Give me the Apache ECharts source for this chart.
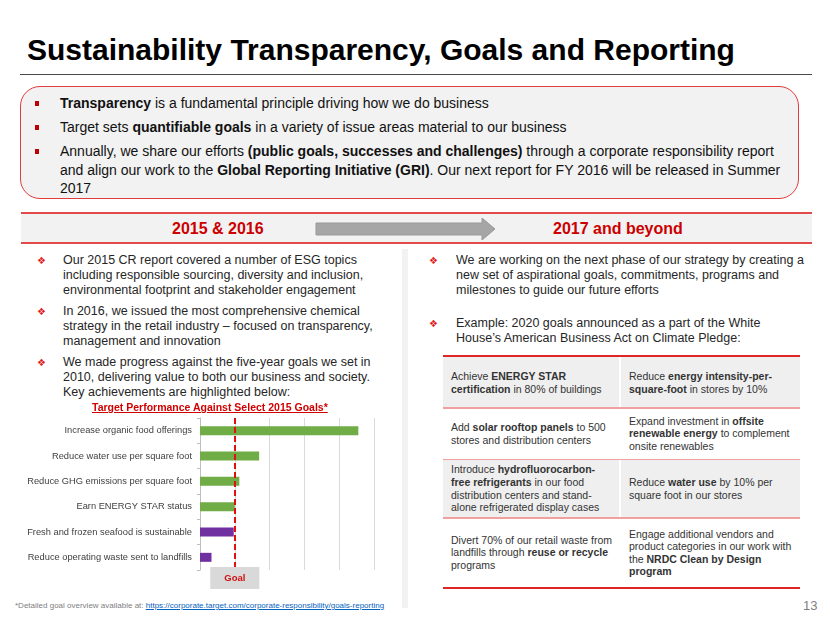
<!DOCTYPE html>
<html><head><meta charset="utf-8">
<script src="https://cdn.jsdelivr.net/npm/echarts@6/dist/echarts.min.js"></script>
<style>
html,body{margin:0;padding:0;width:830px;height:623px;background:#fff;overflow:hidden;font-family:"Liberation Sans",Arial,sans-serif;}
.abs{position:absolute;white-space:nowrap;}
#title{left:27px;top:35px;font-size:30px;line-height:30px;font-weight:bold;color:#000;}
#rule{left:20px;top:74px;width:792px;height:0;border-top:1.5px solid #4a4a4a;}
#box{left:20px;top:86px;width:777px;height:111px;border:1.5px solid #E23B3B;border-radius:20px;background:#F2F2F2;}
.sq{position:absolute;width:4px;height:5px;background:#C00000;}
.tb{font-size:14px;line-height:18.5px;color:#111;}
#band{left:21px;top:212px;width:791px;height:28px;background:#F2F2F2;border-top:2px solid #E24A4A;border-bottom:2px solid #E24A4A;}
.bandtxt{font-size:16px;line-height:16px;font-weight:bold;color:#CC0000;}
#sep{left:402px;top:249px;width:6px;height:359px;background:#F2F2F2;}
.dm{position:absolute;font-family:"DejaVu Sans",sans-serif;font-size:10px;line-height:10px;color:#E01B1B;}
.bt{font-size:12.5px;line-height:15px;color:#262626;}
#ctitle{left:92px;top:401px;font-size:10.5px;line-height:13px;font-weight:bold;color:#D00000;text-decoration:underline;}
.row{position:absolute;left:443px;width:357px;}
.cell{position:absolute;top:0;bottom:0;display:flex;align-items:center;font-size:10.5px;line-height:12.6px;color:#333;white-space:nowrap;}
.vd{position:absolute;left:176px;top:0;bottom:0;width:2px;background:#fff;}
#foot{left:15px;top:601px;font-size:8px;line-height:10px;color:#808080;}
#foot a{color:#0563C1;text-decoration:underline;}
#pg{left:803px;top:599px;font-size:13px;line-height:14px;color:#808080;}
#chart{position:absolute;left:0;top:400px;width:400px;height:195px;}
</style></head>
<body>
<div class="abs" id="title">Sustainability Transparency, Goals and Reporting</div>
<div class="abs" id="rule"></div>
<div class="abs" id="box"></div>
<div class="sq" style="left:35px;top:101px"></div>
<div class="sq" style="left:35px;top:125px"></div>
<div class="sq" style="left:35px;top:149px"></div>
<div class="abs tb" style="left:60px;top:94px"><b>Transparency</b> is a fundamental principle driving how we do business</div>
<div class="abs tb" style="left:60px;top:118px">Target sets <b>quantifiable goals</b> in a variety of issue areas material to our business</div>
<div class="abs tb" style="left:60px;top:142px">Annually, we share our efforts <b>(public goals, successes and challenges)</b> through a corporate responsibility report<br>and align our work to the <b>Global Reporting Initiative (GRI)</b>. Our next report for FY 2016 will be released in Summer<br>2017</div>

<div class="abs" id="band"></div>
<div class="abs bandtxt" style="left:172px;top:221px">2015 &amp; 2016</div>
<div class="abs bandtxt" style="left:553px;top:221px">2017 and beyond</div>
<svg class="abs" style="left:315px;top:217px" width="182" height="24"><polygon points="1,6 167,6 167,1 180,12 167,23 167,18 1,18" fill="#A6A6A6" stroke="#999" stroke-width="1"/></svg>

<div class="abs" id="sep"></div>

<div class="dm" style="left:37px;top:256px">❖</div>
<div class="dm" style="left:37px;top:307px">❖</div>
<div class="dm" style="left:37px;top:358px">❖</div>
<div class="abs bt" style="left:63px;top:253px">Our 2015 CR report covered a number of ESG topics<br>including responsible sourcing, diversity and inclusion,<br>environmental footprint and stakeholder engagement</div>
<div class="abs bt" style="left:63px;top:304px">In 2016, we issued the most comprehensive chemical<br>strategy in the retail industry – focused on transparency,<br>management and innovation</div>
<div class="abs bt" style="left:63px;top:355px">We made progress against the five-year goals we set in<br>2010, delivering value to both our business and society.<br>Key achievements are highlighted below:</div>

<div class="dm" style="left:429px;top:256px">❖</div>
<div class="dm" style="left:429px;top:319px">❖</div>
<div class="abs bt" style="left:456px;top:253px">We are working on the next phase of our strategy by creating a<br>new set of aspirational goals, commitments, programs and<br>milestones to guide our future efforts</div>
<div class="abs bt" style="left:456px;top:316px">Example: 2020 goals announced as a part of the White<br>House’s American Business Act on Climate Pledge:</div>

<div class="row" style="top:355px;height:2px;background:#E02525"></div>
<div class="row" style="top:357px;height:51px;background:#EFEFEF">
  <div class="cell" style="left:8px"><div>Achieve <b>ENERGY STAR</b><br><b>certification</b> in 80% of buildings</div></div>
  <div class="vd"></div>
  <div class="cell" style="left:186px"><div>Reduce <b>energy intensity-per-</b><br><b>square-foot</b> in stores by 10%</div></div>
</div>
<div class="row" style="top:407px;height:1.5px;background:#F1A0A0"></div>
<div class="row" style="top:408.5px;height:50.5px;background:#fff">
  <div class="cell" style="left:8px"><div>Add <b>solar rooftop panels</b> to 500<br>stores and distribution centers</div></div>
  <div class="cell" style="left:186px"><div>Expand investment in <b>offsite</b><br><b>renewable energy</b> to complement<br>onsite renewables</div></div>
</div>
<div class="row" style="top:458.5px;height:1.5px;background:#F1A0A0"></div>
<div class="row" style="top:460px;height:57px;background:#EFEFEF">
  <div class="cell" style="left:8px"><div>Introduce <b>hydrofluorocarbon-</b><br><b>free refrigerants</b> in our food<br>distribution centers and stand-<br>alone refrigerated display cases</div></div>
  <div class="vd"></div>
  <div class="cell" style="left:186px"><div>Reduce <b>water use</b> by 10% per<br>square foot in our stores</div></div>
</div>
<div class="row" style="top:517px;height:1.5px;background:#F1A0A0"></div>
<div class="row" style="top:518.5px;height:68.5px;background:#fff">
  <div class="cell" style="left:8px"><div>Divert 70% of our retail waste from<br>landfills through <b>reuse or recycle</b><br>programs</div></div>
  <div class="cell" style="left:186px"><div>Engage additional vendors and<br>product categories in our work with<br>the <b>NRDC Clean by Design</b><br><b>program</b></div></div>
</div>
<div class="row" style="top:587px;height:2px;background:#E02525"></div>

<div id="chart"></div>
<div class="abs" id="ctitle">Target Performance Against Select 2015 Goals*</div>

<div class="abs" id="foot">*Detailed goal overview available at: <a>https://corporate.target.com/corporate-responsibility/goals-reporting</a></div>
<div class="abs" id="pg">13</div>

<script>
// ---- data ----
const categories = [
  'Increase organic food offerings',
  'Reduce water use per square foot',
  'Reduce GHG emissions per square foot',
  'Earn ENERGY STAR status',
  'Fresh and frozen seafood is sustainable',
  'Reduce operating waste sent to landfills'
];
// performance relative to goal (1 = goal reached)
const goalMet    = [4.55, 1.70, 1.13, 1.00, '-', '-'];
const goalNotMet = ['-', '-', '-', '-', 0.97, 0.33];
const goalValue = 1;
const goalLabel = 'Goal';
const axisMin = 0, axisMax = 5, axisStep = 1;

const FONT = '"Liberation Sans", Arial, sans-serif';
const chart = echarts.init(document.getElementById('chart'), null, {renderer:'canvas'});
chart.setOption({
  animation:false,
  grid:{left:200, top:18, width:174, height:152},
  xAxis:{
    type:'value', min:axisMin, max:axisMax, interval:axisStep,
    axisLabel:{show:false}, axisLine:{show:false}, axisTick:{show:false},
    splitLine:{lineStyle:{color:'#D9D9D9', width:1}}
  },
  yAxis:{
    type:'category', data:categories, inverse:true,
    axisLine:{lineStyle:{color:'#BFBFBF'}},
    axisTick:{show:true, length:3, lineStyle:{color:'#BFBFBF'}},
    axisLabel:{fontSize:9.3, color:'#404040', margin:8, fontFamily:FONT}
  },
  series:[
    {type:'bar', name:'Goal met', data:goalMet, stack:'perf', barWidth:9,
     itemStyle:{color:'#70AD47'}},
    {type:'bar', name:'Goal not met', data:goalNotMet, stack:'perf', barWidth:9,
     itemStyle:{color:'#7030A0'},
     markLine:{
       silent:true, symbol:['none','none'],
       data:[{xAxis:goalValue}],
       lineStyle:{type:[6,3], color:'#E01010', width:2},
       label:{show:true, position:'end', formatter:goalLabel, color:'#D01010',
              fontWeight:'bold', fontSize:9.5, fontFamily:FONT,
              backgroundColor:'#D9D9D9', padding:[6,14,6,14], distance:-3}
     }}
  ]
});
</script>
</body></html>
